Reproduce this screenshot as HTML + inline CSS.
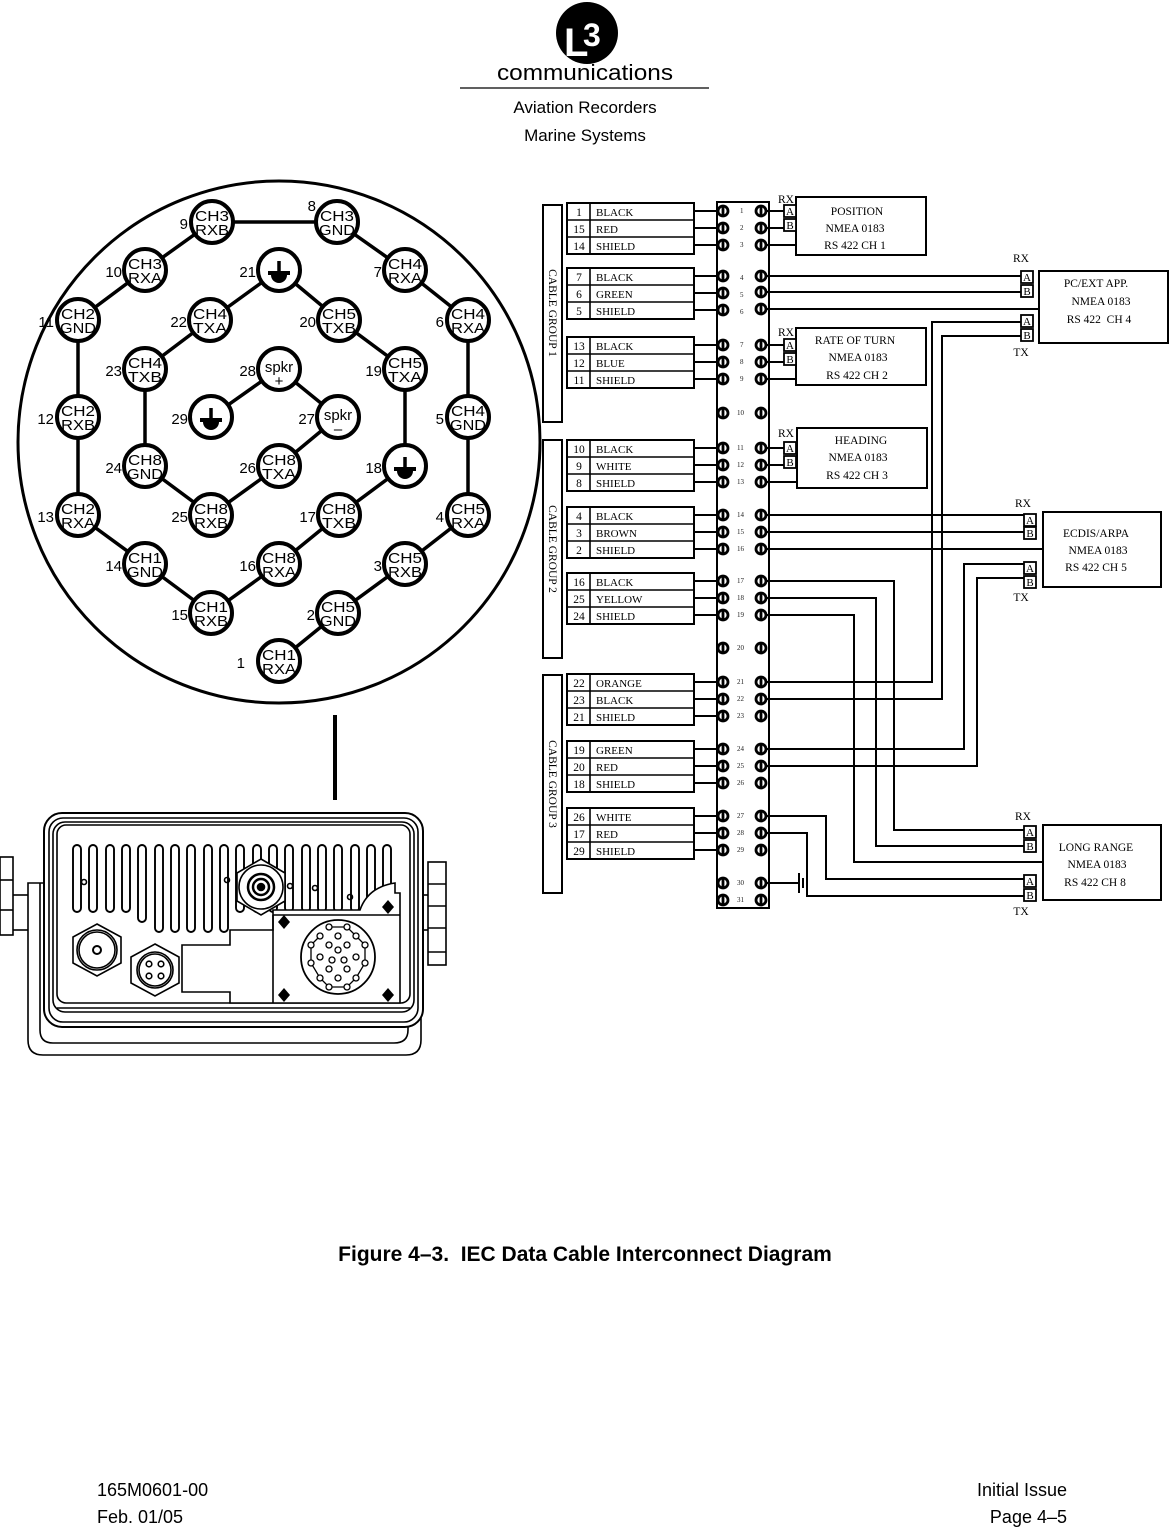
<!DOCTYPE html>
<html><head><meta charset="utf-8"><style>
html,body{margin:0;padding:0;background:#fff}
svg{display:block}
.a{font-family:"Liberation Sans",Arial,sans-serif}
.s{font-family:"Liberation Serif","Times New Roman",serif}
</style></head><body>
<svg width="1170" height="1527" viewBox="0 0 1170 1527" xmlns="http://www.w3.org/2000/svg">
<defs>
<g id="sc"><circle r="5" fill="#fff" stroke="#000" stroke-width="2.8"/><line x1="0" y1="-5" x2="0" y2="5" stroke="#000" stroke-width="2.8"/></g>
<g id="gnd"><line x1="0" y1="-11" x2="0" y2="0" stroke="#000" stroke-width="3.5"/><rect x="-11" y="-1" width="22" height="4" fill="#000"/><path d="M-8 3 A8 8 0 0 0 8 3 Z" fill="#000"/></g>
</defs>
<rect width="1170" height="1527" fill="#fff"/>

<!-- Header -->
<circle cx="587" cy="33" r="31" fill="#000"/>
<text x="564" y="56" class="a" font-size="40" font-weight="bold" fill="#fff">L</text>
<text x="583" y="46" class="a" font-size="32" font-weight="bold" fill="#fff">3</text>
<text x="585" y="80" class="a" font-size="22" text-anchor="middle" textLength="176" lengthAdjust="spacingAndGlyphs">communications</text>
<line x1="460" y1="88" x2="709" y2="88" stroke="#000" stroke-width="1.2"/>
<text x="585" y="113" class="a" font-size="17" text-anchor="middle">Aviation Recorders</text>
<text x="585" y="141" class="a" font-size="17" text-anchor="middle">Marine Systems</text>

<!-- Big connector circle -->
<circle cx="279" cy="442" r="261" fill="#fff" stroke="#000" stroke-width="3"/>
<g stroke="#000" stroke-width="3.5" fill="none">
<polyline points="337,222 212,222 145,270 78,320 78,417 78,515 145,564 211,613 279,564 339,515 405,466 405,369 339,320 279,270 210,320 145,369 145,466 211,515 279,466 338,417 279,369 211,417"/>
<polyline points="337,222 405,270 468,320 468,417 468,515 405,564 338,613 279,661"/>
</g>
<g fill="#fff" stroke="#000" stroke-width="4">
<circle cx="212" cy="222" r="21"/><circle cx="337" cy="222" r="21"/>
<circle cx="145" cy="270" r="21"/><circle cx="279" cy="270" r="21"/><circle cx="405" cy="270" r="21"/>
<circle cx="78" cy="320" r="21"/><circle cx="210" cy="320" r="21"/><circle cx="339" cy="320" r="21"/><circle cx="468" cy="320" r="21"/>
<circle cx="145" cy="369" r="21"/><circle cx="279" cy="369" r="21"/><circle cx="405" cy="369" r="21"/>
<circle cx="78" cy="417" r="21"/><circle cx="211" cy="417" r="21"/><circle cx="338" cy="417" r="21"/><circle cx="468" cy="417" r="21"/>
<circle cx="145" cy="466" r="21"/><circle cx="279" cy="466" r="21"/><circle cx="405" cy="466" r="21"/>
<circle cx="78" cy="515" r="21"/><circle cx="211" cy="515" r="21"/><circle cx="339" cy="515" r="21"/><circle cx="468" cy="515" r="21"/>
<circle cx="145" cy="564" r="21"/><circle cx="279" cy="564" r="21"/><circle cx="405" cy="564" r="21"/>
<circle cx="211" cy="613" r="21"/><circle cx="338" cy="613" r="21"/>
<circle cx="279" cy="661" r="21"/>
</g>
<use href="#gnd" x="279" y="272"/><use href="#gnd" x="211" y="419"/><use href="#gnd" x="405" y="468"/>
<g class="a" font-size="15" text-anchor="middle">
<text x="212" y="221" textLength="34" lengthAdjust="spacingAndGlyphs">CH3</text><text x="212" y="235" textLength="34" lengthAdjust="spacingAndGlyphs">RXB</text>
<text x="337" y="221" textLength="34" lengthAdjust="spacingAndGlyphs">CH3</text><text x="337" y="235" textLength="36" lengthAdjust="spacingAndGlyphs">GND</text>
<text x="145" y="269" textLength="34" lengthAdjust="spacingAndGlyphs">CH3</text><text x="145" y="283" textLength="34" lengthAdjust="spacingAndGlyphs">RXA</text>
<text x="405" y="269" textLength="34" lengthAdjust="spacingAndGlyphs">CH4</text><text x="405" y="283" textLength="34" lengthAdjust="spacingAndGlyphs">RXA</text>
<text x="78" y="319" textLength="34" lengthAdjust="spacingAndGlyphs">CH2</text><text x="78" y="333" textLength="36" lengthAdjust="spacingAndGlyphs">GND</text>
<text x="210" y="319" textLength="34" lengthAdjust="spacingAndGlyphs">CH4</text><text x="210" y="333" textLength="34" lengthAdjust="spacingAndGlyphs">TXA</text>
<text x="339" y="319" textLength="34" lengthAdjust="spacingAndGlyphs">CH5</text><text x="339" y="333" textLength="34" lengthAdjust="spacingAndGlyphs">TXB</text>
<text x="468" y="319" textLength="34" lengthAdjust="spacingAndGlyphs">CH4</text><text x="468" y="333" textLength="34" lengthAdjust="spacingAndGlyphs">RXA</text>
<text x="145" y="368" textLength="34" lengthAdjust="spacingAndGlyphs">CH4</text><text x="145" y="382" textLength="34" lengthAdjust="spacingAndGlyphs">TXB</text>
<text x="279" y="372">spkr</text><text x="279" y="386">+</text>
<text x="405" y="368" textLength="34" lengthAdjust="spacingAndGlyphs">CH5</text><text x="405" y="382" textLength="34" lengthAdjust="spacingAndGlyphs">TXA</text>
<text x="78" y="416" textLength="34" lengthAdjust="spacingAndGlyphs">CH2</text><text x="78" y="430" textLength="34" lengthAdjust="spacingAndGlyphs">RXB</text>
<text x="338" y="420">spkr</text><text x="338" y="434">–</text>
<text x="468" y="416" textLength="34" lengthAdjust="spacingAndGlyphs">CH4</text><text x="468" y="430" textLength="36" lengthAdjust="spacingAndGlyphs">GND</text>
<text x="145" y="465" textLength="34" lengthAdjust="spacingAndGlyphs">CH8</text><text x="145" y="479" textLength="36" lengthAdjust="spacingAndGlyphs">GND</text>
<text x="279" y="465" textLength="34" lengthAdjust="spacingAndGlyphs">CH8</text><text x="279" y="479" textLength="34" lengthAdjust="spacingAndGlyphs">TXA</text>
<text x="78" y="514" textLength="34" lengthAdjust="spacingAndGlyphs">CH2</text><text x="78" y="528" textLength="34" lengthAdjust="spacingAndGlyphs">RXA</text>
<text x="211" y="514" textLength="34" lengthAdjust="spacingAndGlyphs">CH8</text><text x="211" y="528" textLength="34" lengthAdjust="spacingAndGlyphs">RXB</text>
<text x="339" y="514" textLength="34" lengthAdjust="spacingAndGlyphs">CH8</text><text x="339" y="528" textLength="34" lengthAdjust="spacingAndGlyphs">TXB</text>
<text x="468" y="514" textLength="34" lengthAdjust="spacingAndGlyphs">CH5</text><text x="468" y="528" textLength="34" lengthAdjust="spacingAndGlyphs">RXA</text>
<text x="145" y="563" textLength="34" lengthAdjust="spacingAndGlyphs">CH1</text><text x="145" y="577" textLength="36" lengthAdjust="spacingAndGlyphs">GND</text>
<text x="279" y="563" textLength="34" lengthAdjust="spacingAndGlyphs">CH8</text><text x="279" y="577" textLength="34" lengthAdjust="spacingAndGlyphs">RXA</text>
<text x="405" y="563" textLength="34" lengthAdjust="spacingAndGlyphs">CH5</text><text x="405" y="577" textLength="34" lengthAdjust="spacingAndGlyphs">RXB</text>
<text x="211" y="612" textLength="34" lengthAdjust="spacingAndGlyphs">CH1</text><text x="211" y="626" textLength="34" lengthAdjust="spacingAndGlyphs">RXB</text>
<text x="338" y="612" textLength="34" lengthAdjust="spacingAndGlyphs">CH5</text><text x="338" y="626" textLength="36" lengthAdjust="spacingAndGlyphs">GND</text>
<text x="279" y="660" textLength="34" lengthAdjust="spacingAndGlyphs">CH1</text><text x="279" y="674" textLength="34" lengthAdjust="spacingAndGlyphs">RXA</text>
</g>
<g class="a" font-size="15" text-anchor="end">
<text x="188" y="229">9</text><text x="316" y="211">8</text>
<text x="122" y="277">10</text><text x="256" y="277">21</text><text x="382" y="277">7</text>
<text x="54" y="327">11</text><text x="187" y="327">22</text><text x="316" y="327">20</text><text x="444" y="327">6</text>
<text x="122" y="376">23</text><text x="256" y="376">28</text><text x="382" y="376">19</text>
<text x="54" y="424">12</text><text x="188" y="424">29</text><text x="315" y="424">27</text><text x="444" y="424">5</text>
<text x="122" y="473">24</text><text x="256" y="473">26</text><text x="382" y="473">18</text>
<text x="54" y="522">13</text><text x="188" y="522">25</text><text x="316" y="522">17</text><text x="444" y="522">4</text>
<text x="122" y="571">14</text><text x="256" y="571">16</text><text x="382" y="571">3</text>
<text x="188" y="620">15</text><text x="315" y="620">2</text>
<text x="245" y="668">1</text>
</g>
<line x1="335" y1="715" x2="335" y2="800" stroke="#000" stroke-width="4"/>

<!-- Device -->
<g fill="none" stroke="#000" stroke-width="1.6">
<rect x="0" y="857" width="13" height="78" fill="#fff"/>
<line x1="0" y1="880" x2="13" y2="880"/><line x1="0" y1="910" x2="13" y2="910"/>
<rect x="428" y="862" width="18" height="103" fill="#fff"/>
<line x1="428" y1="884" x2="446" y2="884"/><line x1="428" y1="906" x2="446" y2="906"/><line x1="428" y1="928" x2="446" y2="928"/><line x1="428" y1="952" x2="446" y2="952"/>
<line x1="13" y1="895" x2="28" y2="895"/><line x1="13" y1="930" x2="28" y2="930"/>
<line x1="420" y1="895" x2="428" y2="895"/><line x1="420" y1="930" x2="428" y2="930"/>
<path d="M44 883 H28 V1040 Q28 1055 43 1055 H406 Q421 1055 421 1040 V883 H406"/>
<path d="M40 883 V1030 Q40 1043 53 1043 H394 Q408 1043 408 1030 V883"/>
<line x1="48" y1="883" x2="48" y2="945"/><line x1="400" y1="883" x2="400" y2="945"/>
<rect x="44" y="813" width="379" height="214" rx="18" fill="#fff" stroke-width="2"/>
<rect x="49" y="818" width="369" height="204" rx="14"/>
<rect x="53" y="822" width="361" height="190" rx="12"/>
<rect x="57" y="825" width="353" height="178" rx="9"/>
<line x1="57" y1="1008" x2="410" y2="1008"/>
<g stroke-width="1.9">
<rect x="73" y="845" width="8" height="67" rx="4"/><rect x="89" y="845" width="8" height="67" rx="4"/><rect x="106" y="845" width="8" height="67" rx="4"/><rect x="122" y="845" width="8" height="67" rx="4"/><rect x="138" y="845" width="8" height="77" rx="4"/><rect x="155" y="845" width="8" height="87" rx="4"/><rect x="171" y="845" width="8" height="87" rx="4"/><rect x="187" y="845" width="8" height="87" rx="4"/><rect x="204" y="845" width="8" height="87" rx="4"/><rect x="220" y="845" width="8" height="87" rx="4"/><rect x="236" y="845" width="8" height="67" rx="4"/><rect x="253" y="845" width="8" height="67" rx="4"/><rect x="269" y="845" width="8" height="67" rx="4"/><rect x="285" y="845" width="8" height="67" rx="4"/><rect x="302" y="845" width="8" height="67" rx="4"/><rect x="318" y="845" width="8" height="67" rx="4"/><rect x="334" y="845" width="8" height="67" rx="4"/><rect x="351" y="845" width="8" height="67" rx="4"/><rect x="367" y="845" width="8" height="67" rx="4"/><rect x="383" y="845" width="8" height="60" rx="4"/>
</g>
<path d="M230 1003 V992 H182 V945 H230 V930 H273 V910 H360 Q368 887 395 883 V893 H400 V1003 Z" fill="#fff"/>
<path d="M273 915 H400" />
<line x1="273" y1="915" x2="273" y2="1003"/>
<polygon points="261,859 285,873 285,901 261,915 237,901 237,873" fill="#fff"/>
<circle cx="261" cy="887" r="22" fill="#fff"/>
<circle cx="261" cy="887" r="13" stroke-width="2.5"/>
<circle cx="261" cy="887" r="8" stroke-width="2.5"/>
<circle cx="261" cy="887" r="3.5" fill="#000"/>
<circle cx="227" cy="880" r="2.5"/><circle cx="290" cy="886" r="2.5"/><circle cx="84" cy="882" r="2.5"/><circle cx="315" cy="888" r="2.5"/><circle cx="350" cy="897" r="2.5"/>
<polygon points="97,924 121,937 121,963 97,976 73,963 73,937" fill="#fff"/>
<circle cx="97" cy="950" r="20"/><circle cx="97" cy="950" r="18"/>
<circle cx="97" cy="950" r="4" stroke-width="2"/>
<polygon points="155,944 179,957 179,983 155,996 131,983 131,957" fill="#fff"/>
<circle cx="155" cy="970" r="18"/><circle cx="155" cy="970" r="16"/>
<circle cx="149" cy="964" r="2.8"/><circle cx="161" cy="964" r="2.8"/><circle cx="149" cy="976" r="2.8"/><circle cx="161" cy="976" r="2.8"/>
<circle cx="338" cy="957" r="37" stroke-width="1.8"/>
</g>
<g fill="#000">
<polygon points="284,915 290,922 284,929 278,922"/><polygon points="388,900 394,907 388,914 382,907"/>
<polygon points="284,988 290,995 284,1002 278,995"/><polygon points="388,988 394,995 388,1002 382,995"/>
</g>
<g fill="#fff" stroke="#000" stroke-width="1.3">
<polyline points="329,927 347,927 356,936 365,945 365,963 356,978 347,987 329,987 320,978 311,963 311,945 320,936" fill="none"/>
<circle cx="329" cy="927" r="3"/><circle cx="347" cy="927" r="3"/><circle cx="356" cy="936" r="3"/><circle cx="365" cy="945" r="3"/><circle cx="365" cy="963" r="3"/><circle cx="356" cy="978" r="3"/><circle cx="347" cy="987" r="3"/><circle cx="329" cy="987" r="3"/><circle cx="320" cy="978" r="3"/><circle cx="311" cy="963" r="3"/><circle cx="311" cy="945" r="3"/><circle cx="320" cy="936" r="3"/>
<circle cx="338" cy="936" r="3"/><circle cx="347" cy="945" r="3"/><circle cx="356" cy="957" r="3"/><circle cx="347" cy="969" r="3"/><circle cx="338" cy="978" r="3"/><circle cx="329" cy="969" r="3"/><circle cx="320" cy="957" r="3"/><circle cx="329" cy="945" r="3"/>
<circle cx="338" cy="950" r="3"/><circle cx="344" cy="960" r="3"/><circle cx="332" cy="960" r="3"/>
</g>

<!-- Cable groups -->
<g fill="#fff" stroke="#000" stroke-width="2">
<rect x="543" y="205" width="19" height="217"/>
<rect x="543" y="440" width="19" height="218"/>
<rect x="543" y="675" width="19" height="218"/>
</g>
<g class="s" font-size="11.5">
<text transform="translate(549,313) rotate(90)" text-anchor="middle">CABLE GROUP 1</text>
<text transform="translate(549,549) rotate(90)" text-anchor="middle">CABLE GROUP 2</text>
<text transform="translate(549,784) rotate(90)" text-anchor="middle">CABLE GROUP 3</text>
</g>
<g fill="none" stroke="#000" stroke-width="2">
<rect x="567" y="203" width="127" height="51"/><rect x="567" y="268" width="127" height="51"/><rect x="567" y="337" width="127" height="51"/>
<rect x="567" y="440" width="127" height="51"/><rect x="567" y="507" width="127" height="51"/><rect x="567" y="573" width="127" height="51"/>
<rect x="567" y="674" width="127" height="51"/><rect x="567" y="741" width="127" height="51"/><rect x="567" y="808" width="127" height="51"/>
</g>
<g stroke="#000" stroke-width="1.6">
<line x1="590" y1="203" x2="590" y2="254"/><line x1="567" y1="220" x2="694" y2="220"/><line x1="567" y1="237" x2="694" y2="237"/>
<line x1="590" y1="268" x2="590" y2="319"/><line x1="567" y1="285" x2="694" y2="285"/><line x1="567" y1="302" x2="694" y2="302"/>
<line x1="590" y1="337" x2="590" y2="388"/><line x1="567" y1="354" x2="694" y2="354"/><line x1="567" y1="371" x2="694" y2="371"/>
<line x1="590" y1="440" x2="590" y2="491"/><line x1="567" y1="457" x2="694" y2="457"/><line x1="567" y1="474" x2="694" y2="474"/>
<line x1="590" y1="507" x2="590" y2="558"/><line x1="567" y1="524" x2="694" y2="524"/><line x1="567" y1="541" x2="694" y2="541"/>
<line x1="590" y1="573" x2="590" y2="624"/><line x1="567" y1="590" x2="694" y2="590"/><line x1="567" y1="607" x2="694" y2="607"/>
<line x1="590" y1="674" x2="590" y2="725"/><line x1="567" y1="691" x2="694" y2="691"/><line x1="567" y1="708" x2="694" y2="708"/>
<line x1="590" y1="741" x2="590" y2="792"/><line x1="567" y1="758" x2="694" y2="758"/><line x1="567" y1="775" x2="694" y2="775"/>
<line x1="590" y1="808" x2="590" y2="859"/><line x1="567" y1="825" x2="694" y2="825"/><line x1="567" y1="842" x2="694" y2="842"/>
</g>
<g class="s" font-size="11.5">
<g text-anchor="middle">
<text x="579" y="216">1</text><text x="579" y="233">15</text><text x="579" y="250">14</text>
<text x="579" y="281">7</text><text x="579" y="298">6</text><text x="579" y="315">5</text>
<text x="579" y="350">13</text><text x="579" y="367">12</text><text x="579" y="384">11</text>
<text x="579" y="453">10</text><text x="579" y="470">9</text><text x="579" y="487">8</text>
<text x="579" y="520">4</text><text x="579" y="537">3</text><text x="579" y="554">2</text>
<text x="579" y="586">16</text><text x="579" y="603">25</text><text x="579" y="620">24</text>
<text x="579" y="687">22</text><text x="579" y="704">23</text><text x="579" y="721">21</text>
<text x="579" y="754">19</text><text x="579" y="771">20</text><text x="579" y="788">18</text>
<text x="579" y="821">26</text><text x="579" y="838">17</text><text x="579" y="855">29</text>
</g>
<g font-size="11">
<text x="596" y="216">BLACK</text><text x="596" y="233">RED</text><text x="596" y="250">SHIELD</text>
<text x="596" y="281">BLACK</text><text x="596" y="298">GREEN</text><text x="596" y="315">SHIELD</text>
<text x="596" y="350">BLACK</text><text x="596" y="367">BLUE</text><text x="596" y="384">SHIELD</text>
<text x="596" y="453">BLACK</text><text x="596" y="470">WHITE</text><text x="596" y="487">SHIELD</text>
<text x="596" y="520">BLACK</text><text x="596" y="537">BROWN</text><text x="596" y="554">SHIELD</text>
<text x="596" y="586">BLACK</text><text x="596" y="603">YELLOW</text><text x="596" y="620">SHIELD</text>
<text x="596" y="687">ORANGE</text><text x="596" y="704">BLACK</text><text x="596" y="721">SHIELD</text>
<text x="596" y="754">GREEN</text><text x="596" y="771">RED</text><text x="596" y="788">SHIELD</text>
<text x="596" y="821">WHITE</text><text x="596" y="838">RED</text><text x="596" y="855">SHIELD</text>
</g>
</g>

<!-- Terminal block -->
<rect x="717" y="202" width="52" height="706" fill="#fff" stroke="#000" stroke-width="2"/>
<g stroke="#000" stroke-width="2" fill="none">
<path d="M694 211H718M694 228H718M694 245H718M694 276H718M694 293H718M694 310H718M694 345H718M694 362H718M694 379H718M694 448H718M694 465H718M694 482H718M694 515H718M694 532H718M694 549H718M694 581H718M694 598H718M694 615H718M694 682H718M694 699H718M694 716H718M694 749H718M694 766H718M694 783H718M694 816H718M694 833H718M694 850H718"/>
<path d="M766 211H784M766 228H784M766 245H796"/>
<path d="M766 345H784M766 362H784M766 379H796"/>
<path d="M766 448H784M766 465H784M766 482H797"/>
<path d="M766 276H1021M766 292H1021M766 309H1039"/>
<path d="M766 682H932V322H1021M766 699H942V336H1021"/>
<path d="M766 515H1024M766 532H1024M766 549H1043"/>
<path d="M766 749H964V564H1024M766 766H977V578H1024"/>
<path d="M766 581H894V830H1024M766 598H876V846H1024M766 615H854V862H1043"/>
<path d="M766 816H826V879H1024M766 833H807V896H1024"/>
<path d="M766 883H799"/>
</g>
<line x1="799" y1="873" x2="799" y2="893" stroke="#000" stroke-width="2"/>
<line x1="803" y1="878" x2="803" y2="888" stroke="#000" stroke-width="2"/>
<g>
<use href="#sc" x="723" y="211"/><use href="#sc" x="761" y="211"/>
<use href="#sc" x="723" y="228"/><use href="#sc" x="761" y="228"/>
<use href="#sc" x="723" y="245"/><use href="#sc" x="761" y="245"/>
<use href="#sc" x="723" y="276"/><use href="#sc" x="761" y="276"/>
<use href="#sc" x="723" y="293"/><use href="#sc" x="761" y="292"/>
<use href="#sc" x="723" y="310"/><use href="#sc" x="761" y="309"/>
<use href="#sc" x="723" y="345"/><use href="#sc" x="761" y="345"/>
<use href="#sc" x="723" y="362"/><use href="#sc" x="761" y="362"/>
<use href="#sc" x="723" y="379"/><use href="#sc" x="761" y="379"/>
<use href="#sc" x="723" y="413"/><use href="#sc" x="761" y="413"/>
<use href="#sc" x="723" y="448"/><use href="#sc" x="761" y="448"/>
<use href="#sc" x="723" y="465"/><use href="#sc" x="761" y="465"/>
<use href="#sc" x="723" y="482"/><use href="#sc" x="761" y="482"/>
<use href="#sc" x="723" y="515"/><use href="#sc" x="761" y="515"/>
<use href="#sc" x="723" y="532"/><use href="#sc" x="761" y="532"/>
<use href="#sc" x="723" y="549"/><use href="#sc" x="761" y="549"/>
<use href="#sc" x="723" y="581"/><use href="#sc" x="761" y="581"/>
<use href="#sc" x="723" y="598"/><use href="#sc" x="761" y="598"/>
<use href="#sc" x="723" y="615"/><use href="#sc" x="761" y="615"/>
<use href="#sc" x="723" y="648"/><use href="#sc" x="761" y="648"/>
<use href="#sc" x="723" y="682"/><use href="#sc" x="761" y="682"/>
<use href="#sc" x="723" y="699"/><use href="#sc" x="761" y="699"/>
<use href="#sc" x="723" y="716"/><use href="#sc" x="761" y="716"/>
<use href="#sc" x="723" y="749"/><use href="#sc" x="761" y="749"/>
<use href="#sc" x="723" y="766"/><use href="#sc" x="761" y="766"/>
<use href="#sc" x="723" y="783"/><use href="#sc" x="761" y="783"/>
<use href="#sc" x="723" y="816"/><use href="#sc" x="761" y="816"/>
<use href="#sc" x="723" y="833"/><use href="#sc" x="761" y="833"/>
<use href="#sc" x="723" y="850"/><use href="#sc" x="761" y="850"/>
<use href="#sc" x="723" y="883"/><use href="#sc" x="761" y="883"/>
<use href="#sc" x="723" y="900"/><use href="#sc" x="761" y="900"/>
</g>
<g class="s" font-size="7" fill="#222">
<text x="740" y="213">1</text><text x="740" y="230">2</text><text x="740" y="247">3</text>
<text x="740" y="280">4</text><text x="740" y="297">5</text><text x="740" y="314">6</text>
<text x="740" y="347">7</text><text x="740" y="364">8</text><text x="740" y="381">9</text>
<text x="737" y="415">10</text><text x="737" y="450">11</text><text x="737" y="467">12</text><text x="737" y="484">13</text>
<text x="737" y="517">14</text><text x="737" y="534">15</text><text x="737" y="551">16</text>
<text x="737" y="583">17</text><text x="737" y="600">18</text><text x="737" y="617">19</text>
<text x="737" y="650">20</text><text x="737" y="684">21</text><text x="737" y="701">22</text><text x="737" y="718">23</text>
<text x="737" y="751">24</text><text x="737" y="768">25</text><text x="737" y="785">26</text>
<text x="737" y="818">27</text><text x="737" y="835">28</text><text x="737" y="852">29</text>
<text x="737" y="885">30</text><text x="737" y="902">31</text>
</g>

<!-- Device boxes -->
<g fill="#fff" stroke="#000" stroke-width="2">
<rect x="796" y="197" width="130" height="58"/>
<rect x="796" y="328" width="130" height="57"/>
<rect x="797" y="428" width="130" height="60"/>
<rect x="1039" y="271" width="129" height="72"/>
<rect x="1043" y="512" width="118" height="75"/>
<rect x="1043" y="825" width="118" height="75"/>
</g>
<g fill="#fff" stroke="#000" stroke-width="1.8">
<rect x="784" y="205" width="12" height="12"/><rect x="784" y="219" width="12" height="12"/>
<rect x="784" y="339" width="12" height="12"/><rect x="784" y="353" width="12" height="12"/>
<rect x="784" y="442" width="12" height="12"/><rect x="784" y="456" width="12" height="12"/>
<rect x="1021" y="271" width="12" height="12"/><rect x="1021" y="285" width="12" height="12"/>
<rect x="1021" y="315" width="12" height="12"/><rect x="1021" y="329" width="12" height="12"/>
<rect x="1024" y="514" width="12" height="12"/><rect x="1024" y="527" width="12" height="12"/>
<rect x="1024" y="562" width="12" height="12"/><rect x="1024" y="576" width="12" height="12"/>
<rect x="1024" y="826" width="12" height="12"/><rect x="1024" y="840" width="12" height="12"/>
<rect x="1024" y="875" width="12" height="12"/><rect x="1024" y="889" width="12" height="12"/>
</g>
<g class="s" font-size="11" text-anchor="middle">
<text x="790" y="215">A</text><text x="790" y="229">B</text>
<text x="790" y="349">A</text><text x="790" y="363">B</text>
<text x="790" y="452">A</text><text x="790" y="466">B</text>
<text x="1027" y="281">A</text><text x="1027" y="295">B</text>
<text x="1027" y="325">A</text><text x="1027" y="339">B</text>
<text x="1030" y="524">A</text><text x="1030" y="537">B</text>
<text x="1030" y="572">A</text><text x="1030" y="586">B</text>
<text x="1030" y="836">A</text><text x="1030" y="850">B</text>
<text x="1030" y="885">A</text><text x="1030" y="899">B</text>
</g>
<g class="s" font-size="11.5" text-anchor="middle">
<text x="786" y="203">RX</text><text x="786" y="336">RX</text><text x="786" y="437">RX</text>
<text x="1021" y="262">RX</text><text x="1021" y="356">TX</text>
<text x="1023" y="507">RX</text><text x="1021" y="601">TX</text>
<text x="1023" y="820">RX</text><text x="1021" y="915">TX</text>
<text x="857" y="215">POSITION</text><text x="855" y="232">NMEA 0183</text><text x="855" y="249">RS 422 CH 1</text>
<text x="855" y="344">RATE OF TURN</text><text x="858" y="361">NMEA 0183</text><text x="857" y="379">RS 422 CH 2</text>
<text x="861" y="444">HEADING</text><text x="858" y="461">NMEA 0183</text><text x="857" y="479">RS 422 CH 3</text>
<text x="1096" y="287">PC/EXT APP.</text><text x="1101" y="305">NMEA 0183</text><text x="1099" y="323">RS 422 &#160;CH 4</text>
<text x="1096" y="537">ECDIS/ARPA</text><text x="1098" y="554">NMEA 0183</text><text x="1096" y="571">RS 422 CH 5</text>
<text x="1096" y="851">LONG RANGE</text><text x="1097" y="868">NMEA 0183</text><text x="1095" y="886">RS 422 CH 8</text>
</g>

<!-- Caption & footer -->
<text x="585" y="1261" class="a" font-size="21" font-weight="bold" text-anchor="middle">Figure 4–3. &#160;IEC Data Cable Interconnect Diagram</text>
<g class="a" font-size="18">
<text x="97" y="1496">165M0601-00</text>
<text x="97" y="1523">Feb. 01/05</text>
<text x="1067" y="1496" text-anchor="end">Initial Issue</text>
<text x="1067" y="1523" text-anchor="end">Page 4–5</text>
</g>
</svg>
</body></html>
